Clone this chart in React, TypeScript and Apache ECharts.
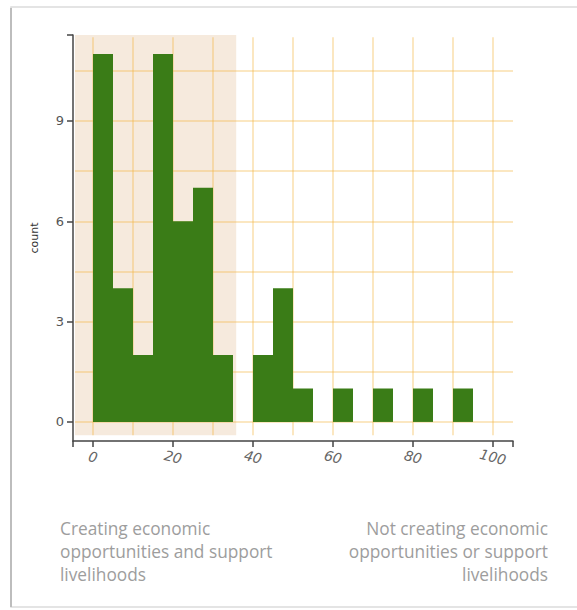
import React, { useEffect, useRef } from "react";
import * as echarts from "echarts";

const binStarts = [0, 5, 10, 15, 20, 25, 30, 35, 40, 45, 50, 55, 60, 65, 70, 75, 80, 85, 90];
const counts = [11, 4, 2, 11, 6, 7, 2, 0, 2, 4, 1, 0, 1, 0, 1, 0, 1, 0, 1];
const binWidth = 5;
const xTickLabels = [0, 20, 40, 60, 80, 100];
const yTickLabels = [0, 3, 6, 9];
const xGridValues = [0, 10, 20, 30, 40, 50, 60, 70, 80, 90, 100];
const yGridValues = [0, 1.5, 3, 4.5, 6, 7.5, 9, 10.5];
const xRange = [-5, 105];
const yRange = [-0.57, 11.57];
const shadedX = [-4.5, 35.8];
const shadedY = [-0.4, 11.57];
const leftCaption = "Creating economic\nopportunities and support\nlivelihoods";
const rightCaption = "Not creating economic\nopportunities or support\nlivelihoods";

export default function App() {
  const ref = useRef<HTMLDivElement>(null);
  useEffect(() => {
    if (!ref.current) return;
    const chart = echarts.init(ref.current, undefined, { renderer: "svg" });
    const gridColor = "rgba(244,178,60,0.42)";
    const vLines = xGridValues.map((x) => [
      { coord: [x, shadedY[0]] },
      { coord: [x, 11.5] },
    ]);
    const hLines = yGridValues.map((y) => [
      { coord: [shadedX[0], y] },
      { coord: [xRange[1], y] },
    ]);
    chart.setOption({
      animation: false,
      backgroundColor: "#ffffff",
      grid: { left: 73, right: 64, top: 35, bottom: 169, containLabel: false },
      xAxis: {
        type: "value",
        min: xRange[0],
        max: xRange[1],
        splitLine: { show: false },
        axisLine: { show: true, onZero: false, lineStyle: { color: "#444", width: 1.5 } },
        axisTick: {
          show: true,
          customValues: [xRange[0], ...xTickLabels, xRange[1]],
          length: 6,
          lineStyle: { color: "#444", width: 1.5 },
        },
        axisLabel: {
          customValues: xTickLabels,
          rotate: -14,
          align: "center",
          margin: 16,
          color: "#666",
          fontSize: 14,
          fontStyle: "italic",
          fontFamily: "DejaVu Sans",
        },
      },
      yAxis: {
        type: "value",
        min: yRange[0],
        max: yRange[1],
        name: "count",
        nameLocation: "middle",
        nameGap: 33,
        nameTextStyle: { color: "#333", fontSize: 11, fontFamily: "DejaVu Sans" },
        splitLine: { show: false },
        axisLine: { show: true, onZero: false, lineStyle: { color: "#444", width: 1.5 } },
        axisTick: {
          show: true,
          customValues: [...yTickLabels, yRange[1]],
          length: 6,
          lineStyle: { color: "#444", width: 1.5 },
        },
        axisLabel: {
          customValues: yTickLabels,
          margin: 9,
          color: "#555",
          fontSize: 13,
          fontFamily: "DejaVu Sans",
        },
      },
      series: [
        {
          type: "scatter",
          data: [],
          z: 1,
          silent: true,
          markArea: {
            silent: true,
            z: 1,
            itemStyle: { color: "#f6eadd" },
            data: [[{ coord: [shadedX[0], shadedY[0]] }, { coord: [shadedX[1], shadedY[1]] }]],
          },
        },
        {
          type: "scatter",
          data: [],
          z: 2,
          silent: true,
          markLine: {
            silent: true,
            z: 2,
            symbol: ["none", "none"],
            label: { show: false },
            lineStyle: { color: gridColor, width: 1.5, type: "solid" },
            data: [...vLines, ...hLines],
          },
        },
        {
          type: "custom",
          z: 3,
          data: binStarts.map((s, i) => [s, counts[i]]),
          renderItem: (params: any, api: any) => {
            const s = api.value(0);
            const c = api.value(1);
            if (!c) return null;
            const p0 = api.coord([s, c]);
            const p1 = api.coord([s + binWidth, 0]);
            return {
              type: "rect",
              shape: { x: p0[0], y: p0[1], width: p1[0] - p0[0], height: p1[1] - p0[1] },
              style: { fill: "#3a7c17" },
            };
          },
        },
      ],
      graphic: [
        {
          type: "rect",
          shape: { x: 11, y: 7, width: 620, height: 600 },
          style: { fill: "none", stroke: "#dcdcdc", lineWidth: 1.5 },
          z: 0,
        },
        {
          type: "line",
          shape: { x1: 11, y1: 8, x2: 11, y2: 607 },
          style: { stroke: "#bdbdbd", lineWidth: 2 },
          z: 0,
        },
        {
          type: "text",
          x: 60,
          y: 517,
          style: {
            text: leftCaption,
            fill: "#9d9d9d",
            font: '17.3px "Open Sans"',
            lineHeight: 23,
            align: "left",
            verticalAlign: "top",
          },
        },
        {
          type: "text",
          x: 548,
          y: 517,
          style: {
            text: rightCaption,
            fill: "#9d9d9d",
            font: '17.3px "Open Sans"',
            lineHeight: 23,
            align: "right",
            verticalAlign: "top",
          },
        },
      ],
    });
    return () => chart.dispose();
  }, []);
  return (
    <div
      ref={ref}
      style={{ position: "fixed", left: 0, top: 0, width: 577, height: 610 }}
    />
  );
}
